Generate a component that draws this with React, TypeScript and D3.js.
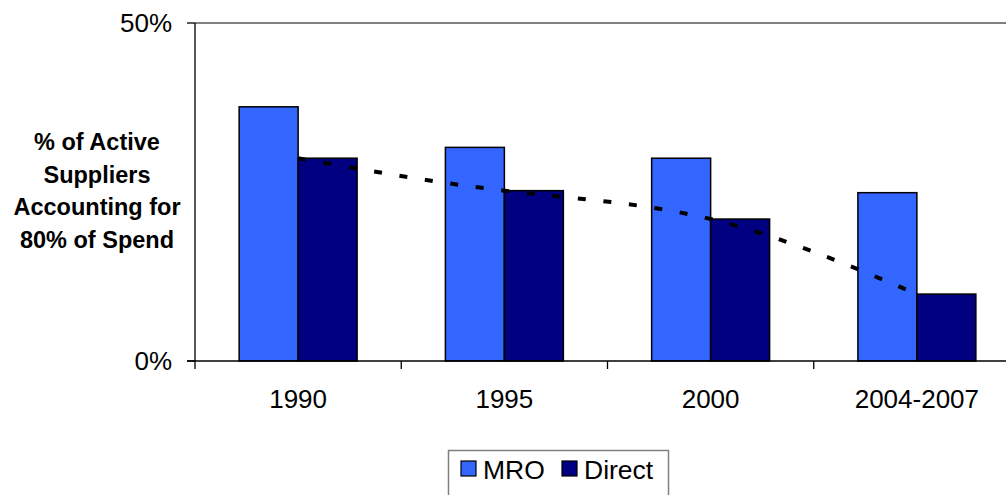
import React from 'react';
import * as d3 from 'd3';

// chart data
const categories = ['1990', '1995', '2000', '2004-2007'];
const seriesNames = ['MRO', 'Direct'];
const mroValues = [37.6, 31.6, 30.0, 24.9];
const directValues = [30.0, 25.2, 21.0, 9.9];
const yTicks = [0, 50];
const axisTitleLines = ['% of Active', 'Suppliers', 'Accounting for', '80% of Spend'];

const colors: Record<string, string> = { MRO: '#3366FF', Direct: '#000080' };

const width = 1006;
const height = 495;
const plotLeft = 195;
const plotRight = 1020; // plot area runs past the right edge of the picture
const plotTop = 23;
const plotBottom = 361;

const App = () => {
  const x0 = d3.scaleBand<string>()
    .domain(categories)
    .range([plotLeft, plotRight])
    .paddingInner(0.428)
    .paddingOuter(0.214);

  const x1 = d3.scaleBand<string>()
    .domain(seriesNames)
    .range([0, x0.bandwidth()]);

  const y = d3.scaleLinear()
    .domain([0, 50])
    .range([plotBottom, plotTop]);

  const rows = categories.map((c, i) => ({ cat: c, MRO: mroValues[i], Direct: directValues[i] }));

  // polynomial-like trend over the Direct series
  const trend = d3.line<number>()
    .x((_, i) => (x0(categories[i]) ?? 0) + x0.bandwidth() / 2)
    .y(d => y(d))
    .curve(d3.curveNatural);

  const step = x0.step();
  const boundaries = categories.map((c, i) => plotLeft + i * step);

  const font = '"Liberation Sans", Arial, sans-serif';

  return (
    <svg
      width={width}
      height={height}
      style={{ position: 'absolute', left: 0, top: 0, background: '#fff' }}
      fontFamily={font}
    >
      {/* top border of the plot area */}
      <line x1={plotLeft} x2={width} y1={y(50)} y2={y(50)} stroke="#808080" strokeWidth={2} />

      {/* bars */}
      {rows.map(r => (
        <g key={r.cat} transform={`translate(${x0(r.cat)},0)`}>
          {seriesNames.map(s => (
            <rect
              key={s}
              x={x1(s)}
              y={y((r as any)[s])}
              width={x1.bandwidth()}
              height={plotBottom - y((r as any)[s])}
              fill={colors[s]}
              stroke="#000"
              strokeWidth={1.5}
            />
          ))}
        </g>
      ))}

      {/* trend line */}
      <path
        d={trend(directValues) ?? ''}
        fill="none"
        stroke="#000"
        strokeWidth={4}
        strokeDasharray="8 17.7"
      />

      {/* y axis */}
      <line x1={plotLeft} x2={plotLeft} y1={plotTop} y2={plotBottom} stroke="#000" strokeWidth={1.3} />
      {yTicks.map(t => (
        <g key={t}>
          <line x1={plotLeft - 8} x2={plotLeft} y1={y(t)} y2={y(t)} stroke="#000" strokeWidth={1.3} />
          <text x={plotLeft - 23} y={y(t)} dy="0.35em" textAnchor="end" fontSize={26}>
            {t}%
          </text>
        </g>
      ))}

      {/* x axis */}
      <line x1={plotLeft - 8} x2={width} y1={plotBottom} y2={plotBottom} stroke="#000" strokeWidth={1.3} />
      {boundaries.map(b => (
        <line key={b} x1={b} x2={b} y1={plotBottom} y2={plotBottom + 8} stroke="#000" strokeWidth={1.3} />
      ))}
      {categories.map(c => (
        <text
          key={c}
          x={(x0(c) ?? 0) + x0.bandwidth() / 2}
          y={408}
          textAnchor="middle"
          fontSize={26}
        >
          {c}
        </text>
      ))}

      {/* axis title */}
      <text x={97} y={150} textAnchor="middle" fontSize={23.5} fontWeight="bold">
        {axisTitleLines.map((l, i) => (
          <tspan key={l} x={97} y={150 + i * 32.5}>{l}</tspan>
        ))}
      </text>

      {/* legend */}
      <rect x={448.5} y={450.5} width={220} height={52} fill="#fff" stroke="#808080" strokeWidth={1.5} />
      {seriesNames.map((s, i) => {
        const lx = i === 0 ? 461 : 562;
        return (
          <g key={s}>
            <rect x={lx} y={461} width={15} height={15} fill={colors[s]} stroke="#000" strokeWidth={1.2} />
            <text x={lx + 22} y={479} fontSize={26.5}>{s}</text>
          </g>
        );
      })}
    </svg>
  );
};

export default App;
